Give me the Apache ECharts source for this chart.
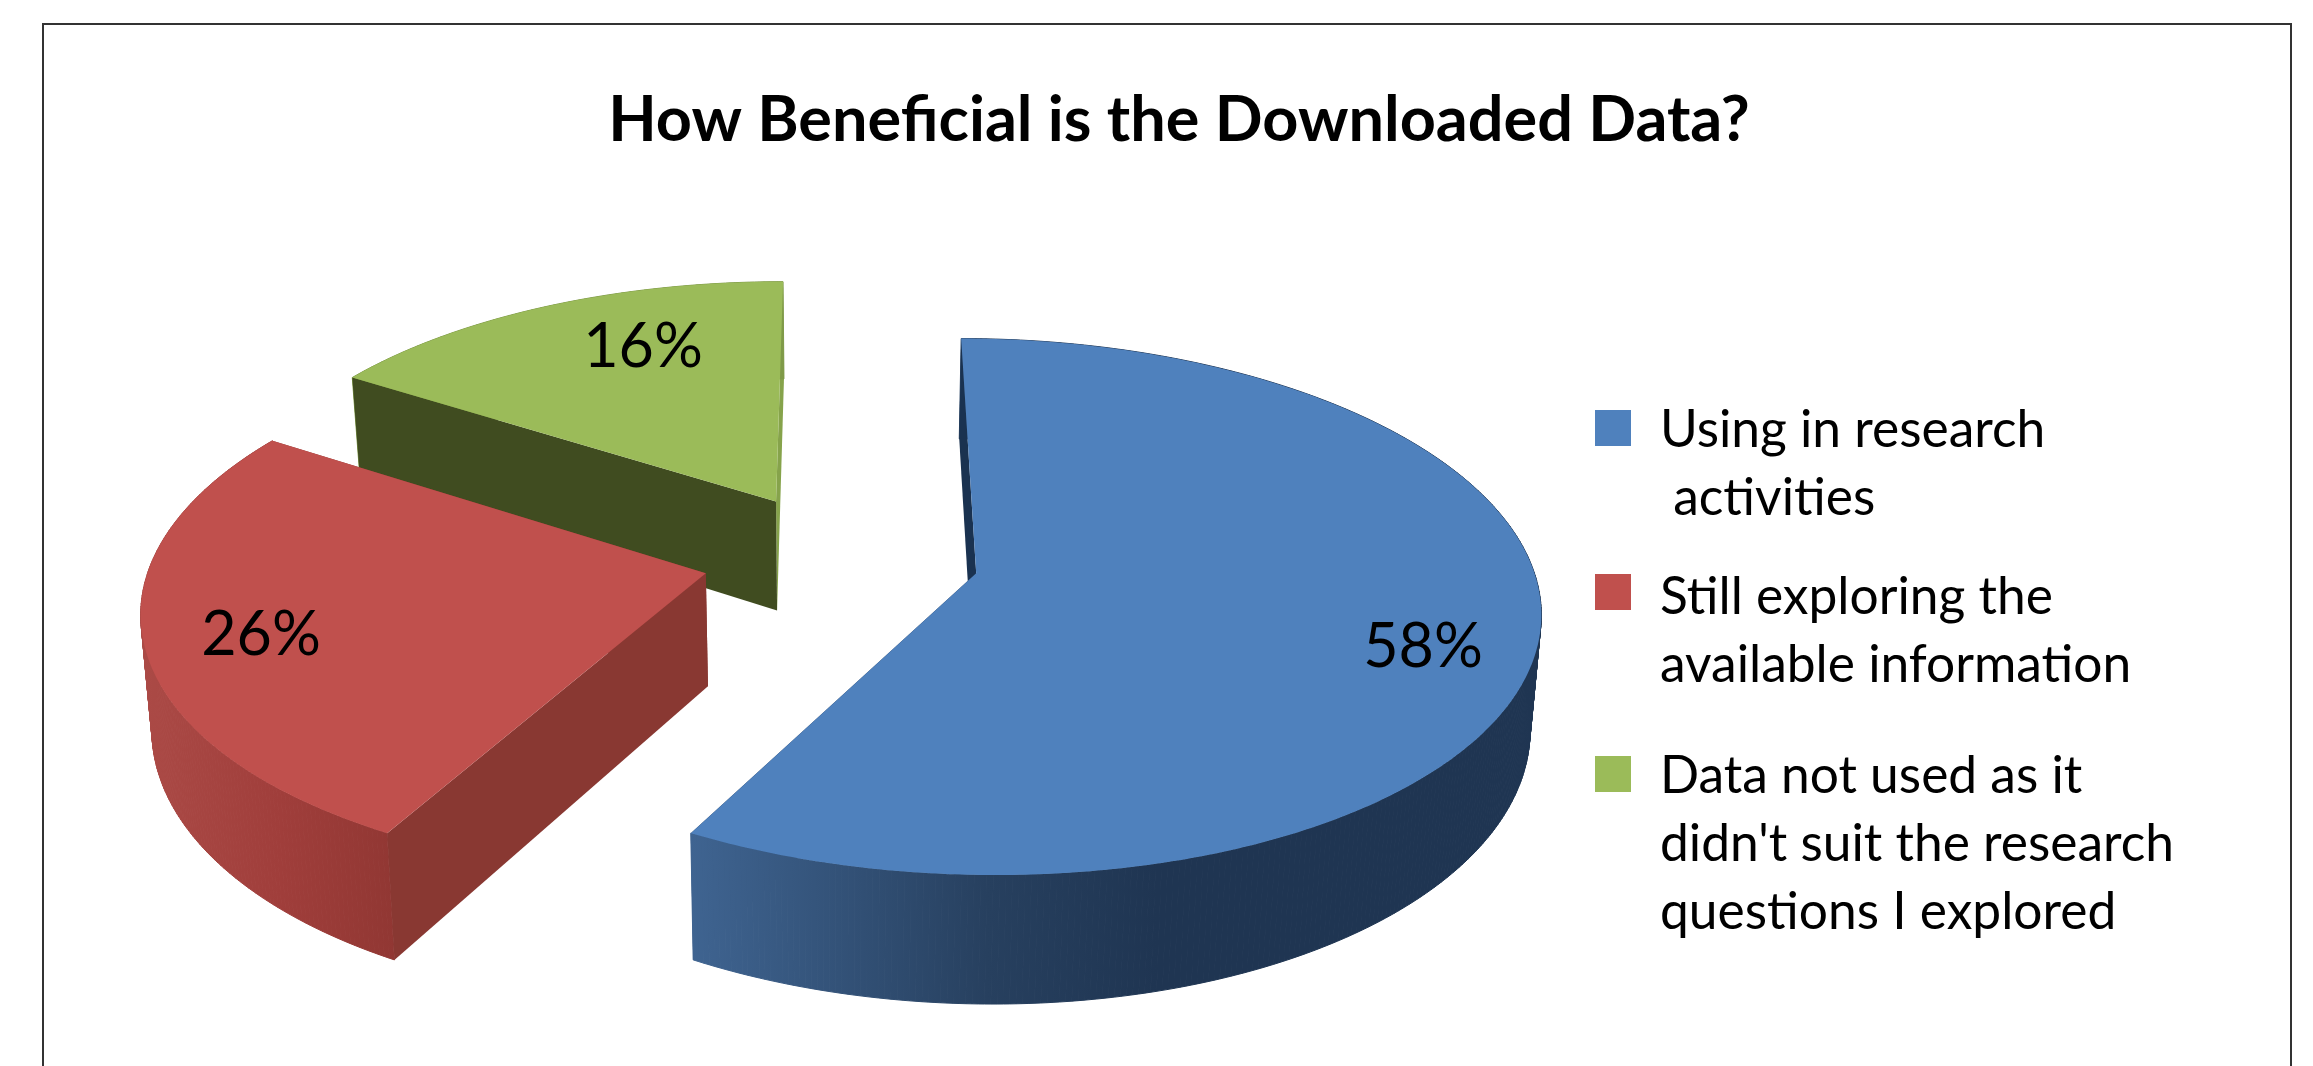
<!DOCTYPE html>
<html>
<head>
<meta charset="utf-8">
<title>How Beneficial is the Downloaded Data?</title>
<script src="https://cdn.jsdelivr.net/npm/echarts@6/dist/echarts.min.js"></script>
<style>
    html, body { margin: 0; padding: 0; background: #fff; }
    #main { width: 2313px; height: 1066px; }
</style>
</head>
<body>
<div id="main"></div>
<script>
var chartTitle = 'How Beneficial is the Downloaded Data?';
var categories = ['Using in research\n activities', 'Still exploring the\navailable information', "Data not used as it\ndidn't suit the research\nquestions I explored"];
var shares = [58, 26, 16];
var shareLabels = ['58%', '26%', '16%'];

var FONT = 'Lato';

// look of each slice, same order as the data
var faceColors = ['#4F81BD', '#C0504D', '#9BBB59'];
var startWallColors = ['#1A3250', '#893832', '#404C20'];
var endWallColors = ['#1F3552', '#893832', '#86A34B'];
var rimRange = [[690, 1539], [141, 395], [350, 783]];
var rimStops = [
    [[0, '#3F6491'], [0.35, '#27405F'], [0.55, '#1F3552'], [1, '#1F3552']],
    [[0, '#AB4A46'], [0.55, '#A03E3B'], [1, '#913733']],
    [[0, '#7F9A48'], [1, '#7F9A48']]
];
var zOrder = [3, 2, 1];
var labelAt = [[1423, 647], [261, 635], [643, 347]];
var legendTop = [410, 574, 756];
var legendTextTop = [396, 563, 742];

// tilted view of the exploded pie
var CX = 841, CY = 557;      // pie centre on screen
var RX = 554, RY = 260;      // radius, across and in depth
var WALL = 112;              // thickness of the pie
var PERSP = 0.124;           // nearer things get bigger
var WALL_SHRINK = 0.016;     // lower rim is a bit narrower
var EXPLODE = 0.25;

function project(x, y, z) {
    var f = 1 / (1 - PERSP * y);
    return [
        CX + RX * x * f * (1 - WALL_SHRINK * z),
        CY + (RY * y + WALL * z) * f
    ];
}

function renderSlice(params, api) {
    var i = params.dataIndex;
    var total = 0, before = 0;
    for (var k = 0; k < shares.length; k++) {
        total += shares[k];
        if (k < i) before += shares[k];
    }
    var a0 = before / total * Math.PI * 2;
    var a1 = (before + api.value(0)) / total * Math.PI * 2;
    var mid = (a0 + a1) / 2;
    var ox = EXPLODE * Math.sin(mid);
    var oy = -EXPLODE * Math.cos(mid);

    var steps = Math.ceil((a1 - a0) / 0.01);
    var top = [], bottom = [];
    for (var s = 0; s <= steps; s++) {
        var a = a0 + (a1 - a0) * s / steps;
        var x = ox + Math.sin(a), y = oy - Math.cos(a);
        top.push(project(x, y, 0));
        bottom.push(project(x, y, 1));
    }
    var hubTop = project(ox, oy, 0);
    var hubBottom = project(ox, oy, 1);
    var z2 = zOrder[i];

    function poly(points, fill) {
        return {
            type: 'polygon',
            z2: z2,
            shape: { points: points },
            style: { fill: fill }
        };
    }

    var colorStops = rimStops[i].map(function (d) {
        return { offset: d[0], color: d[1] };
    });
    var rimFill = new echarts.graphic.LinearGradient(rimRange[i][0], 0, rimRange[i][1], 0, colorStops, true);

    // painted back to front: end cut, rim, start cut, top face
    var children = [
        poly([top[steps], hubTop, hubBottom, bottom[steps]], endWallColors[i])
    ];
    // rim as a strip of small quads so the side silhouette closes properly
    for (var q = 0; q < steps; q++) {
        var quad = poly([top[q], top[q + 1], bottom[q + 1], bottom[q]], rimFill);
        quad.style.stroke = rimFill;
        quad.style.lineWidth = 1;
        children.push(quad);
    }
    children.push(poly([top[0], hubTop, hubBottom, bottom[0]], startWallColors[i]));
    children.push(poly([hubTop].concat(top), faceColors[i]));
    children.push({
        type: 'text',
        z2: 10,
        x: labelAt[i][0],
        y: labelAt[i][1],
        style: {
            text: shareLabels[i],
            fill: '#000',
            font: '61px ' + FONT,
            align: 'center',
            verticalAlign: 'middle'
        }
    });
    return { type: 'group', children: children };
}

var legendItems = [];
categories.forEach(function (name, i) {
    legendItems.push({
        type: 'rect',
        shape: { x: 1595, y: legendTop[i], width: 36, height: 36 },
        style: { fill: faceColors[i] }
    });
    legendItems.push({
        type: 'text',
        x: 1660,
        y: legendTextTop[i],
        style: {
            text: name,
            fill: '#000',
            font: '51.5px ' + FONT,
            lineHeight: 68
        }
    });
});

var myChart = echarts.init(document.getElementById('main'));
var option = {
    animation: false,
    backgroundColor: '#fff',
    title: {
        text: chartTitle,
        left: 1174,
        top: 84,
        textAlign: 'center',
        textStyle: {
            fontFamily: FONT,
            fontSize: 63,
            fontWeight: 'bold',
            color: '#000'
        }
    },
    graphic: [{
        type: 'polyline',
        shape: { points: [[43, 1066], [43, 24], [2291, 24], [2291, 1066]] },
        style: { stroke: '#333', lineWidth: 2, fill: null }
    }].concat(legendItems),
    series: [{
        type: 'custom',
        coordinateSystem: 'none',
        renderItem: renderSlice,
        data: shares.map(function (v) { return [v]; }),
        silent: true
    }]
};
myChart.setOption(option);
</script>
</body>
</html>
